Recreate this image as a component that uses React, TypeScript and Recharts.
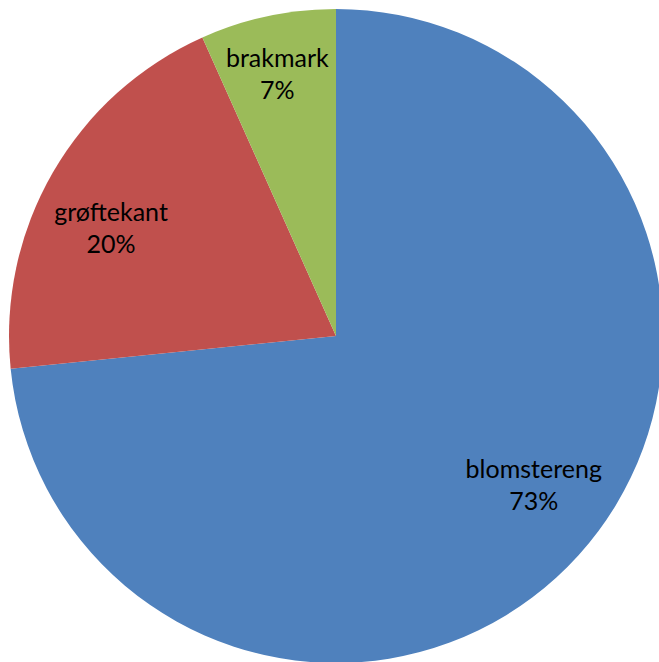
import { Cell, Pie, PieChart } from "recharts";

const categories = ["blomstereng", "grøftekant", "brakmark"];
const shares = [73.4, 19.9, 6.7];
const colors = ["#4F81BD", "#C0504D", "#9BBB59"];
// Excel "best fit" moves the labels a bit off the slice bisector
const labelNudge = [
  [11, -19],
  [-7, 19],
  [-6, -15],
];

const data = categories.map((name, i) => ({ name, value: shares[i] }));

const RAD = Math.PI / 180;

function renderLabel(props: any) {
  const { cx, cy, midAngle, outerRadius, percent, name, index } = props;
  const r = outerRadius * 0.77;
  const [nx, ny] = labelNudge[index] || [0, 0];
  const x = cx + r * Math.cos(-midAngle * RAD) + nx;
  const y = cy + r * Math.sin(-midAngle * RAD) + ny;
  return (
    <text
      x={x}
      y={y}
      textAnchor="middle"
      fill="#000"
      style={{ fontFamily: "Lato, 'Open Sans', sans-serif", fontSize: 25 }}
    >
      <tspan x={x} dy={-8}>
        {name}
      </tspan>
      <tspan x={x} dy={32}>
        {`${Math.round(percent * 100)}%`}
      </tspan>
    </text>
  );
}

export default function App() {
  return (
    <div
      style={{
        position: "absolute",
        left: 0,
        top: 0,
        width: 659,
        height: 662,
        overflow: "hidden",
      }}
    >
      <PieChart
        width={659}
        height={662}
        margin={{ top: 0, right: 0, bottom: 0, left: 0 }}
      >
        <Pie
          data={data}
          dataKey="value"
          nameKey="name"
          cx={336}
          cy={336}
          outerRadius={327}
          startAngle={90}
          endAngle={-270}
          stroke="none"
          labelLine={false}
          label={renderLabel}
          isAnimationActive={false}
        >
          {data.map((d, i) => (
            <Cell key={d.name} fill={colors[i]} />
          ))}
        </Pie>
      </PieChart>
    </div>
  );
}
